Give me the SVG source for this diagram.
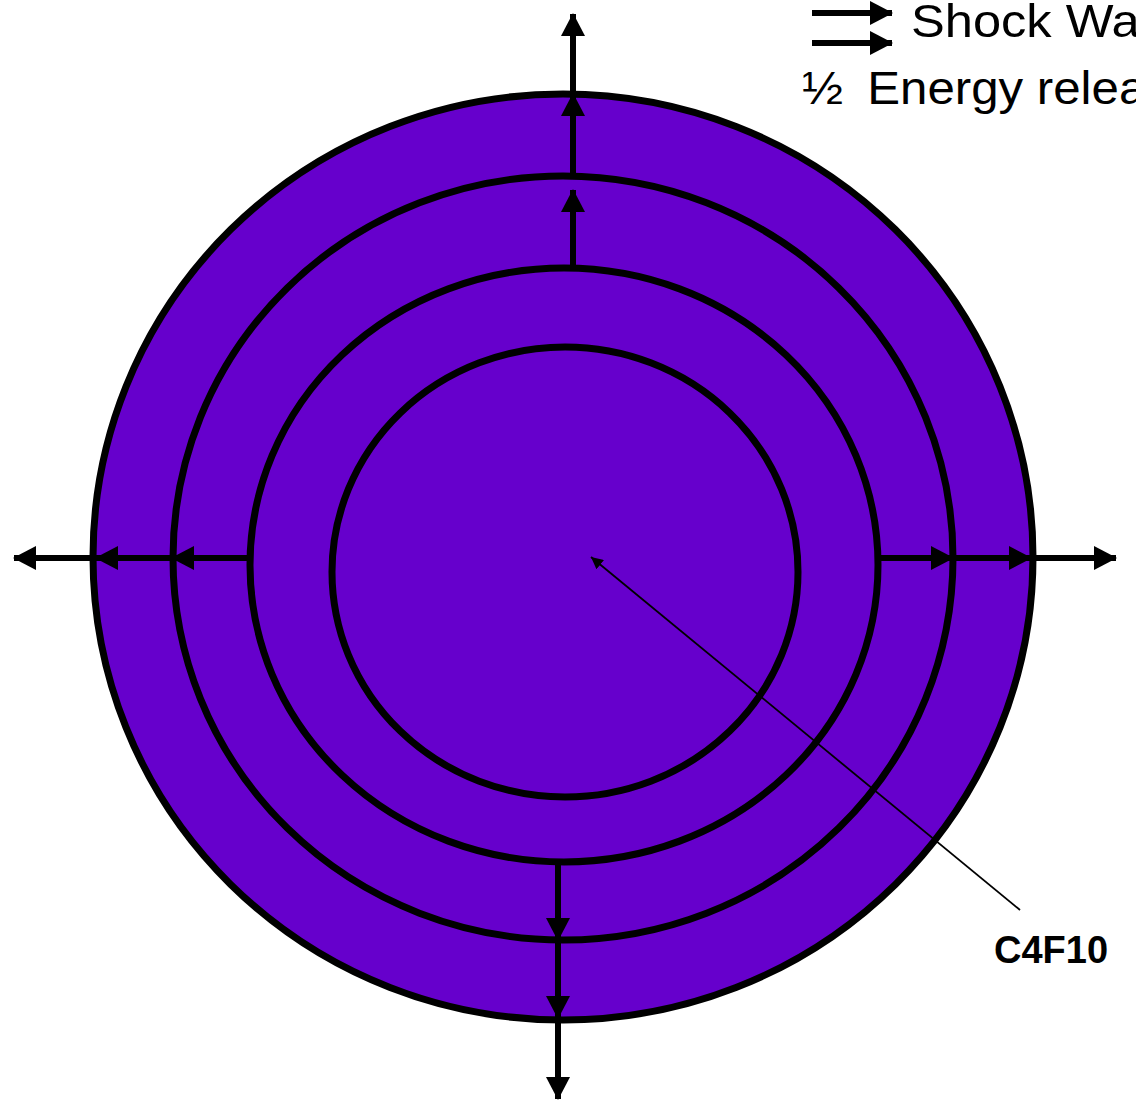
<svg xmlns="http://www.w3.org/2000/svg" width="1136" height="1101" viewBox="0 0 1136 1101">
<style>
.ring{fill:#6600CC;stroke:#000;stroke-width:7}
.shaft{stroke:#000;stroke-width:6;fill:none}
.lbl{font-family:"Liberation Sans",Arial,sans-serif;fill:#000}
</style>
<defs>
<marker id="ah" markerUnits="userSpaceOnUse" markerWidth="24" markerHeight="24" refX="22" refY="12" orient="auto">
<path d="M0,0 L23,12 L0,24 Z" fill="#000"/>
</marker>
<marker id="ahs" markerUnits="userSpaceOnUse" markerWidth="14" markerHeight="12" refX="12" refY="6" orient="auto">
<path d="M0,0 L12,6 L0,12 Z" fill="#000"/>
</marker>
</defs>
<rect width="1136" height="1101" fill="#fff"/>
<g id="outer"><ellipse class="ring" cx="563" cy="557" rx="470" ry="463"/></g>
<g id="ring2"><ellipse class="ring" cx="563" cy="558" rx="390" ry="382"/></g>
<g id="ring3"><ellipse class="ring" cx="564" cy="565" rx="314" ry="297"/></g>
<g id="inner"><ellipse class="ring" cx="565" cy="572" rx="233" ry="225"/></g>
<g id="connectors">
<line class="shaft" x1="573" y1="268" x2="573" y2="190" marker-end="url(#ah)"/>
<line class="shaft" x1="573" y1="176" x2="573" y2="94" marker-end="url(#ah)"/>
<line class="shaft" x1="573" y1="95" x2="573" y2="14" marker-end="url(#ah)"/>
<line class="shaft" x1="250" y1="558" x2="172" y2="558" marker-end="url(#ah)"/>
<line class="shaft" x1="173" y1="558" x2="96" y2="558" marker-end="url(#ah)"/>
<line class="shaft" x1="93" y1="558" x2="14" y2="558" marker-end="url(#ah)"/>
<line class="shaft" x1="878" y1="558" x2="953" y2="558" marker-end="url(#ah)"/>
<line class="shaft" x1="953" y1="558" x2="1031" y2="558" marker-end="url(#ah)"/>
<line class="shaft" x1="1033" y1="558" x2="1116" y2="558" marker-end="url(#ah)"/>
<line class="shaft" x1="558" y1="862" x2="558" y2="940" marker-end="url(#ah)"/>
<line class="shaft" x1="558" y1="940" x2="558" y2="1018" marker-end="url(#ah)"/>
<line class="shaft" x1="558" y1="1020" x2="558" y2="1099" marker-end="url(#ah)"/>
<line x1="1020" y1="910" x2="591" y2="557" stroke="#000" stroke-width="1.8" marker-end="url(#ahs)"/>
<line class="shaft" x1="812" y1="13" x2="892" y2="13" marker-end="url(#ah)"/>
<line class="shaft" x1="812" y1="43" x2="892" y2="43" marker-end="url(#ah)"/>
</g>
<g id="labels">
<text class="lbl" transform="translate(911,37) scale(1.1,1)" font-size="46">Shock Wave</text>
<text class="lbl" transform="translate(802,104) scale(1.07,1)" font-size="46">½<tspan x="61">Energy released</tspan></text>
<text class="lbl" x="994" y="963" font-size="38" font-weight="bold">C4F10</text>
</g>
</svg>
